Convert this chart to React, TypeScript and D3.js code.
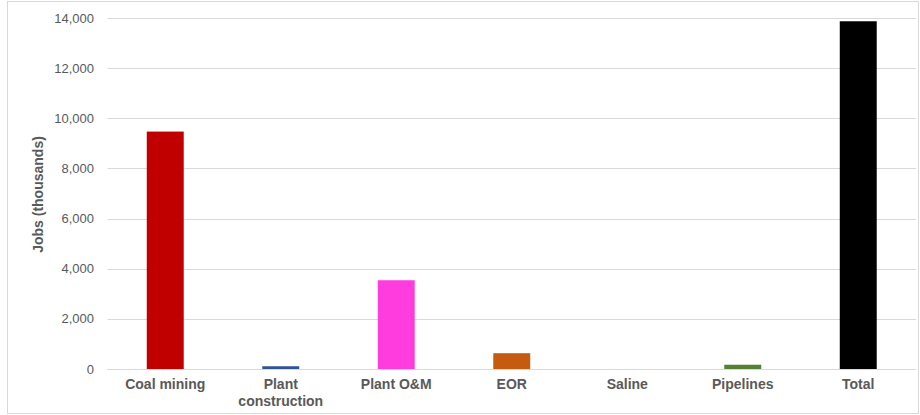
import React from "react";
import * as d3 from "d3";

const categories = ["Coal mining", "Plant construction", "Plant O&M", "EOR", "Saline", "Pipelines", "Total"];
const values = [9470, 110, 3540, 630, 0, 170, 13870];
const colors = ["#C00000", "#2F5597", "#FF3CDE", "#C55A11", "#A5A5A5", "#548235", "#000000"];
const yTicks = [0, 2000, 4000, 6000, 8000, 10000, 12000, 14000];
const yTitle = "Jobs (thousands)";

const W = 920, H = 415;
const left = 107.5, right = 916, top = 18, bottom = 369;

export default function App() {
  const x = d3.scaleBand<string>().domain(categories).range([left, right]).paddingInner(0.68).paddingOuter(0.34);
  const y = d3.scaleLinear().domain([0, 14000]).range([bottom, top]);
  const fmt = d3.format(",");
  const font = "'Liberation Sans', Arial, sans-serif";
  return (
    <svg width={W} height={H} style={{ position: "absolute", left: 0, top: 0 }} fontFamily={font}>
      <rect x={7.5} y={1.5} width={W - 9} height={H - 3} fill="#fff" stroke="#d9d9d9" />
      {yTicks.map((t) => (
        <g key={t}>
          <line x1={left} x2={right} y1={Math.round(y(t)) + 0.5} y2={Math.round(y(t)) + 0.5} stroke="#d9d9d9" />
          <text x={94} y={y(t)} dy="0.35em" textAnchor="end" fontSize={13} fill="#595959">{fmt(t)}</text>
        </g>
      ))}
      {categories.map((c, i) => (
        <rect key={c} x={x(c)} y={y(values[i])} width={x.bandwidth()} height={bottom - y(values[i])} fill={colors[i]} />
      ))}
      <line x1={left} x2={right} y1={bottom + 0.5} y2={bottom + 0.5} stroke="#d9d9d9" />
      {categories.map((c) => {
        const cx = (x(c) as number) + x.bandwidth() / 2;
        const parts = c === "Plant construction" ? ["Plant", "construction"] : [c];
        return (
          <text key={c} x={cx} y={389} textAnchor="middle" fontSize={14} fontWeight="bold" fill="#595959">
            {parts.map((p, k) => (
              <tspan key={k} x={cx} dy={k === 0 ? 0 : 17}>{p}</tspan>
            ))}
          </text>
        );
      })}
      <text transform={`translate(43,${(top + bottom) / 2 + 1}) rotate(-90)`} textAnchor="middle" fontSize={14} fontWeight="bold" fill="#595959">{yTitle}</text>
    </svg>
  );
}
